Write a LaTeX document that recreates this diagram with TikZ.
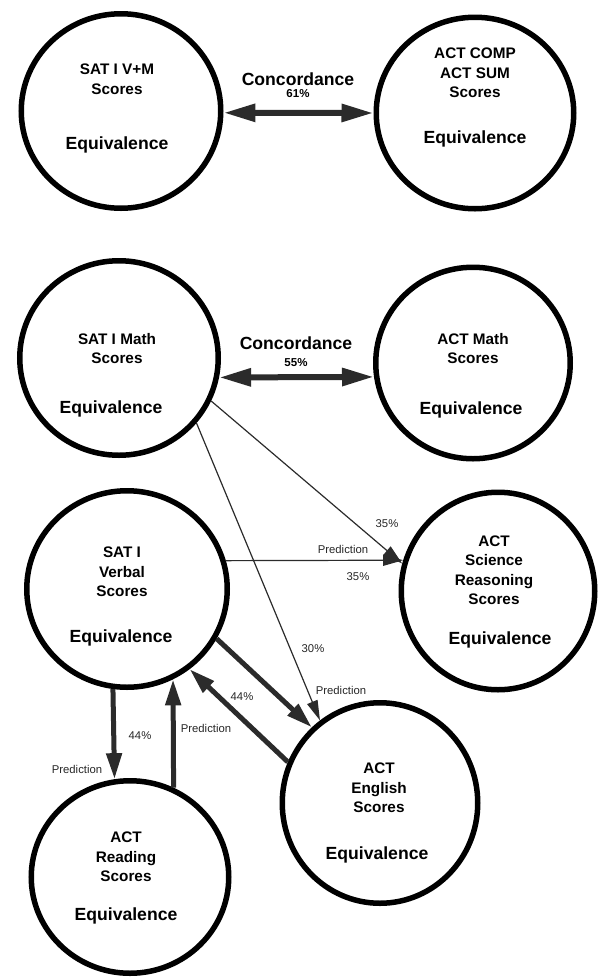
\documentclass[tikz,border=0pt]{standalone}
\usepackage{fontspec}
\setmainfont{Liberation Sans}
\usepackage{tikz}
\usetikzlibrary{shapes.geometric,arrows.meta}

\definecolor{arrowgray}{HTML}{2B2B2B}

\tikzset{
  score/.style 2 args={ellipse,draw=black,line width=5.5pt,inner sep=0pt,
    minimum width=#1,minimum height=#2},
  title/.style={font=\bfseries\fontsize{15.3}{19.5}\selectfont,align=center,inner sep=0pt},
  equiv/.style={font=\bfseries\fontsize{17.6}{20}\selectfont,inner sep=0pt},
  pct/.style={font=\bfseries\fontsize{11.5}{13}\selectfont,inner sep=0pt},
  note/.style={font=\fontsize{11.3}{13}\selectfont,text=black!85,inner sep=0pt},
  concord/.style={draw=arrowgray,line width=6pt,
    {Triangle[length=32pt,width=17pt]}-{Triangle[length=32pt,width=17pt]}},
  predict/.style={draw=arrowgray,line width=5pt,-{Triangle[length=26pt,width=15pt]}},
  weak/.style={draw=arrowgray,line width=1.2pt,-{Triangle[length=20pt,width=11pt]}}
}

\begin{document}
\begin{tikzpicture}[x=1pt,y=-1pt]
     \useasboundingbox (0,0) rectangle (600,978);
     % score circles
     \node[score={199.5}{194.5}] (vm) at (121,111) {};
     \node[score={197.5}{191.5}] (comp) at (475,113) {};
     \node[score={198.5}{194.5}] (smath) at (119,358) {};
     \node[score={194.5}{191.5}] (amath) at (473,363) {};
     \node[score={200.5}{196.5}] (verbal) at (127,589) {};
     \node[score={193.5}{197.5}] (science) at (498,591) {};
     \node[score={195.5}{200.5}] (english) at (380,803) {};
     \node[score={197.5}{192.5}] (reading) at (130,877) {};
     % texts inside
     \node[title] (vmname) at (117,79) {SAT I V+M\\Scores};
     \node[equiv] (vmeq) at (117,145) {Equivalence};
     \node[title] (compname) at (475,73) {ACT COMP\\ACT SUM\\Scores};
     \node[equiv] (compeq) at (475,139) {Equivalence};
     \node[title] (smathname) at (117,348.5) {SAT I Math\\Scores};
     \node[equiv] (smatheq) at (111,409) {Equivalence};
     \node[title] (amathname) at (473,348.5) {ACT Math\\Scores};
     \node[equiv] (amatheq) at (471,410) {Equivalence};
     \node[title] (verbalname) at (122,572) {SAT I\\Verbal\\Scores};
     \node[equiv] (verbaleq) at (121,638) {Equivalence};
     \node[title] (sciencename) at (494,570) {ACT\\Science\\Reasoning\\Scores};
     \node[equiv] (scienceeq) at (500,640) {Equivalence};
     \node[title] (englishname) at (379,788) {ACT\\English\\Scores};
     \node[equiv] (englisheq) at (377,855) {Equivalence};
     \node[title] (readingname) at (126,857) {ACT\\Reading\\Scores};
     \node[equiv] (readingeq) at (126,916) {Equivalence};
     % labels on the links
     \node[equiv] (con1) at (298,79) {Concordance};
     \node[pct] (pct1) at (298,94) {61\%};
     \node[equiv] (con2) at (296,343) {Concordance};
     \node[pct] (pct2) at (296,363) {55\%};
     \node[note] (sci1) at (387,524) {35\%};
     \node[note] (pred1) at (343,549) {Prediction};
     \node[note] (sci2) at (358,577) {35\%};
     \node[note] (eng1) at (313,649) {30\%};
     \node[note] (pred2) at (341,690) {Prediction};
     \node[note] (eng2) at (242,697) {44\%};
     \node[note] (pred3) at (206,728) {Prediction};
     \node[note] (read1) at (140,736) {44\%};
     \node[note] (pred4) at (77,769) {Prediction};
     % links
     \draw [concord] (vm.-1) to (comp.180);
     \draw [concord] (smath.-11.3) to (amath.188.6);
     \draw [weak] (verbal.16.4) to (science.162.3);
     \draw [weak] (smath.-25.3) to (science.164);
     \draw [weak] (smath.-40.7) to (english.126.5);
     \draw [predict] (verbal.-29.5) to (english.132.3);
     \draw [predict] (english.156) to (verbal.-52.8);
     \draw [predict] (verbal.-98) to (reading.99.9);
     \draw [predict] (reading.64.4) to (verbal.-63);
   \end{tikzpicture}
\end{document}
